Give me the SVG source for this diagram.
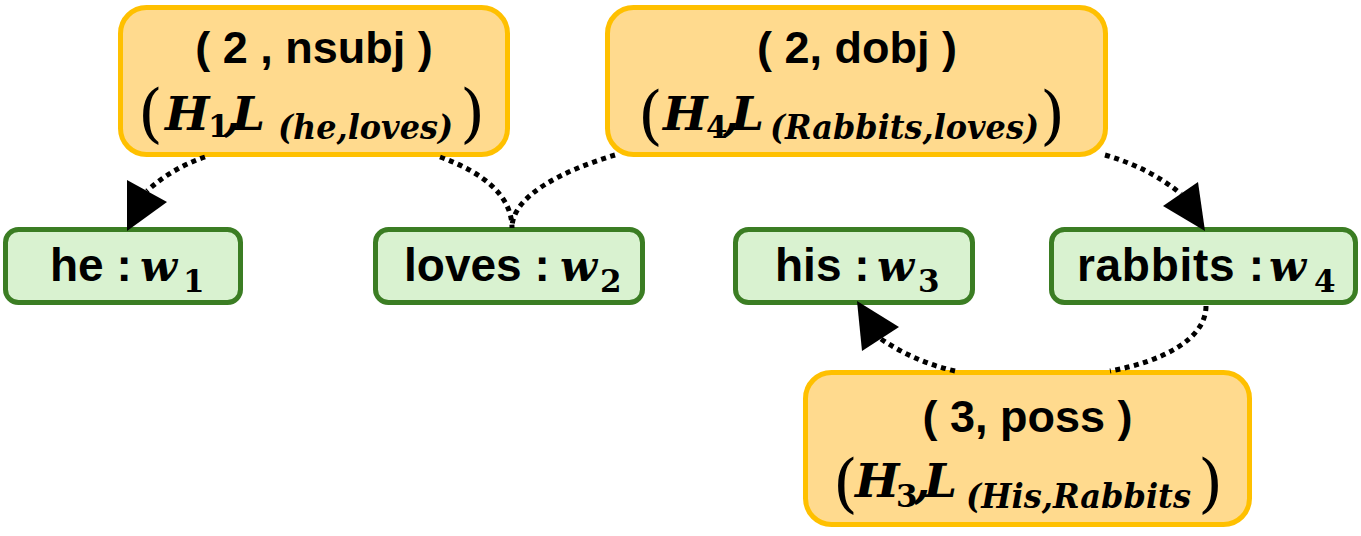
<svg xmlns="http://www.w3.org/2000/svg" width="1361" height="536" viewBox="0 0 1361 536">
<style>
.rel{fill:#FFDA8E;stroke:#FFC000;stroke-width:5}
.word{fill:#D9F2D0;stroke:#3B7D23;stroke-width:5}
.t1{font-family:"Liberation Sans",Arial,sans-serif;font-weight:bold;font-size:45px;fill:#000}
.wl{font-family:"Liberation Sans",Arial,sans-serif;font-weight:bold;font-size:46px;fill:#000}
.mi{font-family:"DejaVu Serif",serif;font-weight:bold;font-style:italic;font-size:47px;fill:#000}
.mw{font-family:"DejaVu Serif",serif;font-weight:bold;font-style:italic;font-size:43px;fill:#000}
.ms{font-family:"DejaVu Serif",serif;font-weight:bold;font-style:italic;font-size:33px;fill:#000}
.md{font-family:"DejaVu Serif",serif;font-weight:bold;font-size:31px;fill:#000}
.mp{font-family:"DejaVu Serif",serif;font-weight:normal;font-size:64px;fill:#000}
.conn{fill:none;stroke:#000;stroke-width:5;stroke-dasharray:5 4.5}
.head{fill:#000;stroke:none}
</style>
<g id="node-nsubj">
<rect class="rel" x="120.5" y="7.5" width="387" height="147" rx="26"/>
<text class="t1" x="314" y="63" text-anchor="middle">( 2 , nsubj )</text>
<text class="mp" x="138" y="135">(</text>
<text class="mi" x="165" y="130">H</text>
<text class="md" x="208" y="137">1</text>
<text class="mi" x="224" y="130">,</text>
<text class="mi" x="232" y="130">L</text>
<text class="ms" x="278" y="139" textLength="175" lengthAdjust="spacingAndGlyphs">(he,loves)</text>
<text class="mp" x="460" y="135">)</text>
</g>
<g id="node-dobj">
<rect class="rel" x="607.5" y="7.5" width="498" height="147" rx="26"/>
<text class="t1" x="857" y="63" text-anchor="middle">( 2, dobj )</text>
<text class="mp" x="638" y="137">(</text>
<text class="mi" x="663" y="130">H</text>
<text class="md" x="706" y="138">4</text>
<text class="mi" x="723" y="130">,</text>
<text class="mi" x="731" y="130">L</text>
<text class="ms" x="770" y="139" textLength="269" lengthAdjust="spacingAndGlyphs">(Rabbits,loves)</text>
<text class="mp" x="1040" y="137">)</text>
</g>
<g id="node-poss">
<rect class="rel" x="805.5" y="372.5" width="444" height="152" rx="26"/>
<text class="t1" x="1027.5" y="432" text-anchor="middle">( 3, poss )</text>
<text class="mp" x="833" y="505">(</text>
<text class="mi" x="855" y="497">H</text>
<text class="md" x="896" y="507">3</text>
<text class="mi" x="914" y="497">,</text>
<text class="mi" x="924" y="497">L</text>
<text class="ms" x="966" y="508" textLength="225" lengthAdjust="spacingAndGlyphs">(His,Rabbits</text>
<text class="mp" x="1198" y="505">)</text>
</g>
<g id="node-he">
<rect class="word" x="5.5" y="229.5" width="235" height="73" rx="13"/>
<text class="wl" x="50" y="281">he :</text>
<text class="mw" x="140" y="281">w</text>
<text class="md" x="183" y="292">1</text>
</g>
<g id="node-loves">
<rect class="word" x="375.5" y="229.5" width="267" height="73" rx="13"/>
<text class="wl" x="404" y="281">loves :</text>
<text class="mw" x="560" y="281">w</text>
<text class="md" x="600" y="292">2</text>
</g>
<g id="node-his">
<rect class="word" x="735.5" y="229.5" width="237" height="73" rx="13"/>
<text class="wl" x="775" y="281">his :</text>
<text class="mw" x="877" y="281">w</text>
<text class="md" x="918" y="292">3</text>
</g>
<g id="node-rabbits">
<rect class="word" x="1051.5" y="229.5" width="304" height="73" rx="13"/>
<text class="wl" x="1077" y="281" textLength="187" lengthAdjust="spacing">rabbits :</text>
<text class="mw" x="1269" y="281">w</text>
<text class="md" x="1314" y="292">4</text>
</g>
<g id="connectors">
<path class="conn" d="M205 157 Q172 168 147 191"/>
<polygon class="head" points="127,180 167,202 127,231"/>
<path class="conn" d="M440 157 C482 172 512 195 512 228"/>
<path class="conn" d="M615 155 C565 170 512 195 512 228"/>
<path class="conn" d="M1105 155 Q1150 168 1181 194"/>
<polygon class="head" points="1163,206 1198,182 1205,231"/>
<path class="conn" d="M1206 306 C1206 340 1160 362 1110 371"/>
<path class="conn" d="M955 371 Q915 362 881 339"/>
<polygon class="head" points="857,301 862,351 899,327"/>
</g>
</svg>
